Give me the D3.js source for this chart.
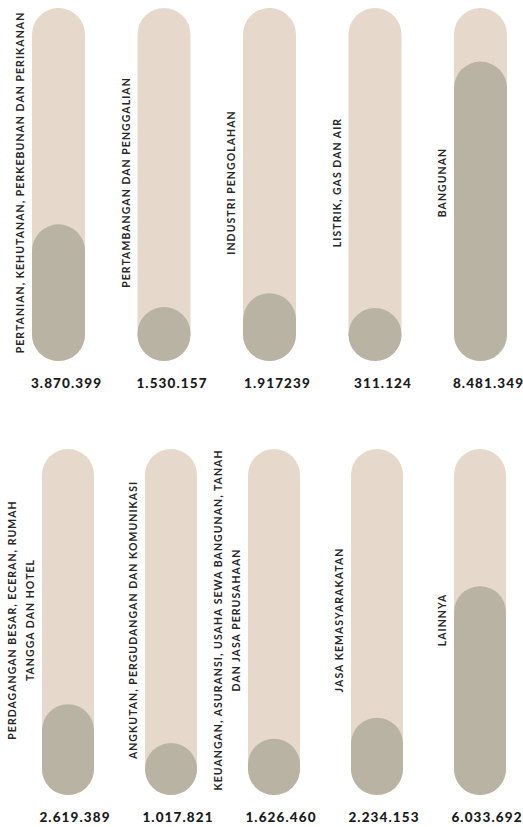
<!DOCTYPE html>
<html lang="id">
<head>
  <meta charset="UTF-8">
  <title>PDRB per Sektor</title>
  <script src="https://d3js.org/d3.v7.min.js"></script>
  <style>
    body {
      margin: 0;
      background: #fff;
      font-family: 'Lato', sans-serif;
    }
    svg { display: block; }
    .label {
      font-size: 10.5px;
      font-weight: 700;
      letter-spacing: 1.05px;
      fill: #262626;
    }
    .value {
      font-size: 13.5px;
      font-weight: 900;
      letter-spacing: 1.1px;
      fill: #1a1a1a;
    }
  </style>
</head>
<body>
  <svg width="523" height="827"></svg>
  <script>
    // sektor (baris atas lalu baris bawah), "\n" = pindah baris pada label
    const categories = [
      "PERTANIAN, KEHUTANAN, PERKEBUNAN DAN PERIKANAN",
      "PERTAMBANGAN DAN PENGGALIAN",
      "INDUSTRI PENGOLAHAN",
      "LISTRIK, GAS DAN AIR",
      "BANGUNAN",
      "PERDAGANGAN BESAR, ECERAN, RUMAH\nTANGGA DAN HOTEL",
      "ANGKUTAN, PERGUDANGAN DAN KOMUNIKASI",
      "KEUANGAN, ASURANSI, USAHA SEWA BANGUNAN, TANAH\nDAN JASA PERUSAHAAN",
      "JASA KEMASYARAKATAN",
      "LAINNYA"
    ];
    const values = [3870399, 1530157, 1917239, 311124, 8481349,
                    2619389, 1017821, 1626460, 2234153, 6033692];
    const valueLabels = ["3.870.399", "1.530.157", "1.917239", "311.124", "8.481.349",
                         "2.619.389", "1.017.821", "1.626.460", "2.234.153", "6.033.692"];
    const maxValue = 10000000;

    const svg = d3.select("svg");

    const rows = [
      {left: 32, right: 454, top: 8, bottom: 361, barW: 53, valueDx: 8},
      {left: 42, right: 454, top: 449, bottom: 795, barW: 52, valueDx: 7}
    ];

    const data = categories.map((c, i) => ({
      cat: c, value: values[i], text: valueLabels[i], row: Math.floor(i / 5)
    }));

    rows.forEach((r, ri) => {
      const rowData = data.filter(d => d.row === ri);
      const x = d3.scalePoint()
        .domain(rowData.map(d => d.cat))
        .range([r.left, r.right]);
      const h = d3.scaleLinear()
        .domain([0, maxValue])
        .range([0, r.bottom - r.top]);

      const g = svg.append("g");
      const col = g.selectAll("g.col")
        .data(rowData)
        .enter().append("g")
          .attr("class", "col");

      // track
      col.append("rect")
        .attr("x", d => x(d.cat))
        .attr("y", r.top)
        .attr("width", r.barW)
        .attr("height", r.bottom - r.top)
        .attr("rx", r.barW / 2)
        .attr("fill", "#e6d9cb");

      // isi
      col.append("rect")
        .attr("x", d => x(d.cat))
        .attr("y", d => r.bottom - Math.max(h(d.value), r.barW))
        .attr("width", r.barW)
        .attr("height", d => Math.max(h(d.value), r.barW))
        .attr("rx", r.barW / 2)
        .attr("fill", "#b9b3a4");

      // label vertikal
      const mid = (r.top + r.bottom) / 2 - 2;
      col.each(function(d) {
        const lines = d.cat.split("\n");
        const bx = x(d.cat) - 8;
        const t = d3.select(this).append("text")
          .attr("class", "label")
          .attr("text-anchor", "middle")
          .attr("transform", `translate(${bx},${mid}) rotate(-90)`);
        lines.forEach((line, li) => {
          t.append("tspan")
            .attr("x", 0)
            .attr("y", -(lines.length - 1 - li) * 18)
            .text(line);
        });
      });

      // nilai
      col.append("text")
        .attr("class", "value")
        .attr("x", d => x(d.cat) + r.barW / 2 + r.valueDx)
        .attr("y", r.bottom + 27)
        .attr("text-anchor", "middle")
        .text(d => d.text);
    });
  </script>
</body>
</html>
